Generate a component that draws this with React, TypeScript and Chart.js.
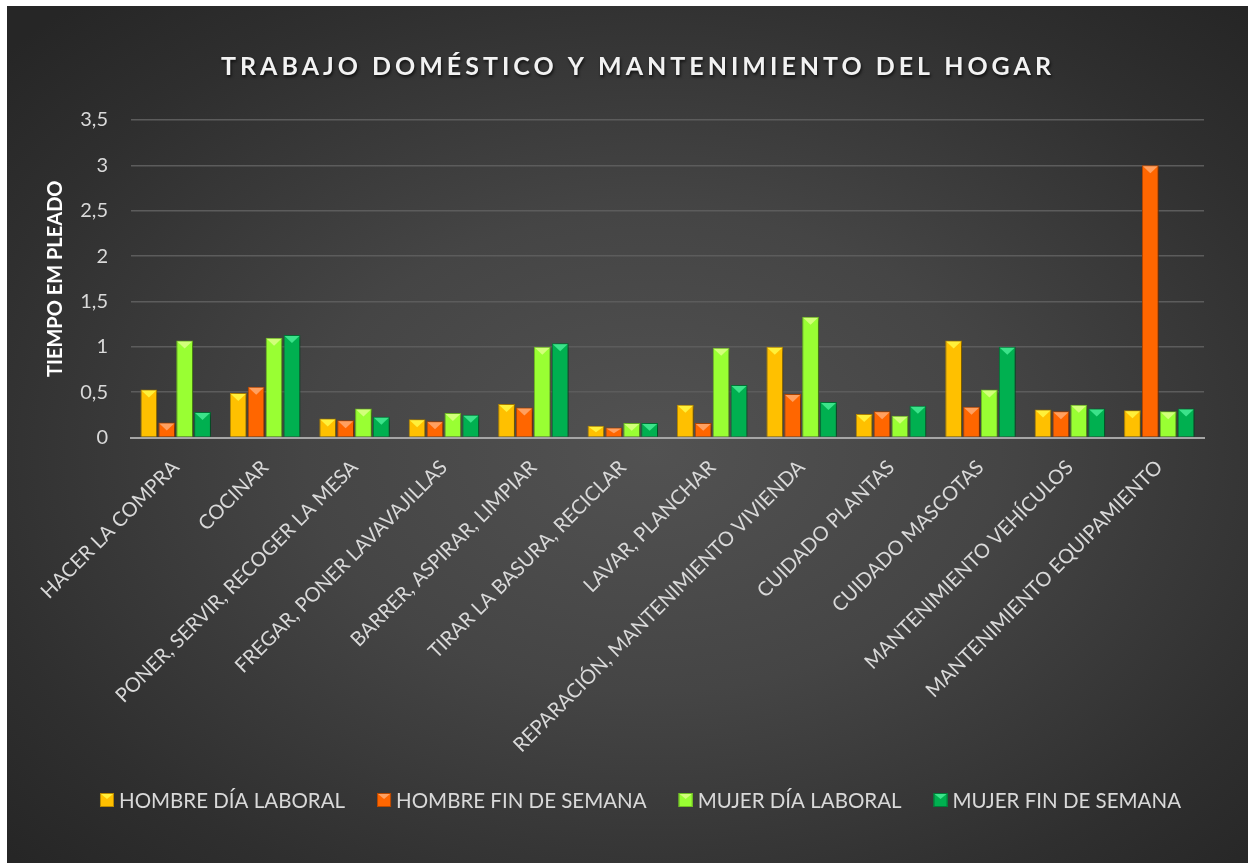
import React, { useEffect, useRef } from "react";
import { Chart, registerables } from "chart.js";

Chart.register(...registerables);

const categories = [
  "HACER LA COMPRA",
  "COCINAR",
  "PONER, SERVIR, RECOGER LA MESA",
  "FREGAR, PONER LAVAVAJILLAS",
  "BARRER, ASPIRAR, LIMPIAR",
  "TIRAR LA BASURA, RECICLAR",
  "LAVAR, PLANCHAR",
  "REPARACIÓN, MANTENIMIENTO VIVIENDA",
  "CUIDADO PLANTAS",
  "CUIDADO MASCOTAS",
  "MANTENIMIENTO VEHÍCULOS",
  "MANTENIMIENTO EQUIPAMIENTO",
];

const hombreDiaLaboral = [0.53, 0.49, 0.21, 0.2, 0.37, 0.13, 0.36, 1.0, 0.26, 1.07, 0.31, 0.3];
const hombreFinSemana = [0.165, 0.56, 0.19, 0.18, 0.33, 0.11, 0.16, 0.48, 0.29, 0.34, 0.29, 3.0];
const mujerDiaLaboral = [1.07, 1.1, 0.32, 0.27, 1.0, 0.16, 0.99, 1.33, 0.24, 0.53, 0.36, 0.29];
const mujerFinSemana = [0.28, 1.13, 0.23, 0.25, 1.04, 0.16, 0.58, 0.39, 0.35, 1.0, 0.32, 0.32];

const seriesNames = [
  "HOMBRE DÍA LABORAL",
  "HOMBRE FIN DE SEMANA",
  "MUJER DÍA LABORAL",
  "MUJER FIN DE SEMANA",
];

const chartTitle = "TRABAJO DOMÉSTICO Y MANTENIMIENTO DEL HOGAR";
const yAxisTitle = "TIEMPO EM PLEADO";

const fills = ["#FFC000", "#FF6600", "#99FF33", "#00B050"];
const borders = ["#B98A00", "#B84800", "#6FBF22", "#007A38"];
const bevels = ["#FFF03A", "#FFA060", "#D2FF7A", "#3BE38A"];

const FONT = "Lato, 'Open Sans', sans-serif";

const titlePlugin = {
  id: "customTitle",
  afterDraw(chart: any) {
    const ctx = chart.ctx;
    ctx.save();
    ctx.font = `bold 25px ${FONT}`;
    (ctx as any).letterSpacing = "4px";
    ctx.textAlign = "center";
    ctx.textBaseline = "alphabetic";
    ctx.shadowColor = "rgba(0,0,0,0.7)";
    ctx.shadowBlur = 3;
    ctx.shadowOffsetX = 1;
    ctx.shadowOffsetY = 2;
    ctx.fillStyle = "#F2F2F2";
    ctx.fillText(chartTitle, 631, 69);
    ctx.restore();
  },
};

const legendPlugin = {
  id: "customLegend",
  afterDraw(chart: any) {
    const ctx = chart.ctx;
    ctx.save();
    ctx.font = `20.5px ${FONT}`;
    ctx.textBaseline = "middle";
    ctx.textAlign = "left";
    const box = 14;
    const gapText = 5;
    const gapItem = 32;
    const widths = seriesNames.map((n) => box + gapText + ctx.measureText(n).width);
    const total = widths.reduce((a, b) => a + b, 0) + gapItem * (widths.length - 1);
    let x = 633.5 - total / 2;
    const cy = 794;
    seriesNames.forEach((name, i) => {
      const top = cy - box / 2;
      ctx.fillStyle = fills[i];
      ctx.fillRect(x, top, box, box);
      ctx.strokeStyle = borders[i];
      ctx.lineWidth = 1;
      ctx.strokeRect(x + 0.5, top + 0.5, box - 1, box - 1);
      ctx.beginPath();
      ctx.moveTo(x + 1, top + 1);
      ctx.lineTo(x + box - 1, top + 1);
      ctx.lineTo(x + box / 2, top + 6);
      ctx.closePath();
      ctx.fillStyle = bevels[i];
      ctx.fill();
      ctx.fillStyle = "#D9D9D9";
      ctx.fillText(name, x + box + gapText, cy + 1);
      x += widths[i] + gapItem;
    });
    ctx.restore();
  },
};

const bevelPlugin = {
  id: "bevel",
  beforeDatasetsDraw(chart: any) {
    const ctx = chart.ctx;
    ctx.save();
    ctx.shadowColor = "rgba(0,0,0,0.45)";
    ctx.shadowBlur = 5;
    ctx.shadowOffsetX = 3;
    ctx.shadowOffsetY = 1;
  },
  afterDatasetsDraw(chart: any) {
    const ctx = chart.ctx;
    ctx.restore();
    ctx.save();
    chart.data.datasets.forEach((ds: any, di: number) => {
      const meta = chart.getDatasetMeta(di);
      meta.data.forEach((bar: any) => {
        const { x, y, base, width } = bar.getProps(["x", "y", "base", "width"], true);
        const l = x - width / 2 + 1;
        const r = x + width / 2 - 1;
        const h = Math.min(7, (base - y) / 2);
        ctx.beginPath();
        ctx.moveTo(l, y + 1);
        ctx.lineTo(r, y + 1);
        ctx.lineTo(x, y + 1 + h);
        ctx.closePath();
        ctx.fillStyle = bevels[di];
        ctx.fill();
      });
    });
    ctx.restore();
  },
};

export default function App() {
  const ref = useRef<HTMLCanvasElement>(null);

  useEffect(() => {
    if (!ref.current) return;
    const datasets = [hombreDiaLaboral, hombreFinSemana, mujerDiaLaboral, mujerFinSemana].map(
      (data, i) => ({
        label: seriesNames[i],
        data,
        backgroundColor: fills[i],
        borderColor: borders[i],
        borderWidth: 1,
        categoryPercentage: 0.8,
        barPercentage: 0.94,
      })
    );
    const chart = new Chart(ref.current, {
      type: "bar",
      data: { labels: categories, datasets },
      plugins: [titlePlugin, bevelPlugin, legendPlugin],
      options: {
        responsive: false,
        animation: false,
        layout: { padding: { top: 114, left: 33, right: 44, bottom: 101.5 } },
        font: { family: FONT },
        plugins: {
          title: { display: false },
          tooltip: { enabled: false },
          legend: { display: false },
        },
        scales: {
          x: {
            grid: { display: false, drawTicks: false },
            border: { display: true, color: "#A6A6A6", width: 2 },
            ticks: {
              color: "#D9D9D9",
              font: { family: FONT, size: 20 },
              autoSkip: false,
              maxRotation: 45,
              minRotation: 45,
              padding: 18,
            },
            afterFit: (scale: any) => {
              scale.height = 324;
            },
          },
          y: {
            min: 0,
            max: 3.5,
            grid: {
              color: (c: any) => (c.tick && c.tick.value === 0 ? "rgba(0,0,0,0)" : "#5C5C5C"),
              lineWidth: 1.5,
              drawTicks: false,
            },
            border: { display: false },
            ticks: {
              stepSize: 0.5,
              color: "#D9D9D9",
              font: { family: FONT, size: 20 },
              padding: 23,
              callback: (v: any) => String(v).replace(".", ","),
            },
            title: {
              display: true,
              text: yAxisTitle,
              color: "#FFFFFF",
              font: { family: FONT, size: 20, weight: "bold" },
              padding: { top: 4, bottom: 4 },
            },
            afterFit: (scale: any) => {
              scale.width = 91;
            },
          },
        },
      } as any,
    });
    return () => chart.destroy();
  }, []);

  return (
    <div
      style={{
        position: "absolute",
        left: 7,
        top: 6,
        width: 1241,
        height: 857,
        background:
          "radial-gradient(ellipse 70% 70% at 52% 52%, #525252 0%, #454545 40%, #2f2f2f 80%, #262626 100%)",
      }}
    >
      <canvas ref={ref} width={1241} height={857} style={{ display: "block" }} />
    </div>
  );
}
